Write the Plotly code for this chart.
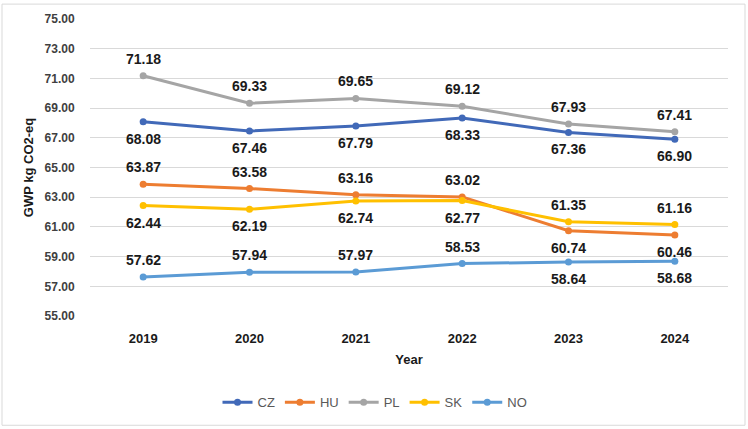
import plotly.graph_objects as go

years = [2019, 2020, 2021, 2022, 2023, 2024]
series_names = ["CZ", "HU", "PL", "SK", "NO"]
cz = [68.08, 67.46, 67.79, 68.33, 67.36, 66.90]
hu = [63.87, 63.58, 63.16, 63.02, 60.74, 60.46]
pl = [71.18, 69.33, 69.65, 69.12, 67.93, 67.41]
sk = [62.44, 62.19, 62.74, 62.77, 61.35, 61.16]
no = [57.62, 57.94, 57.97, 58.53, 58.64, 58.68]
y_ticks = [55, 57, 59, 61, 63, 65, 67, 69, 71, 73, 75]

# label placement: +1 above, -1 below
pos_cz = [-1, -1, -1, -1, -1, -1]
pos_hu = [1, 1, 1, 1, -1, -1]
pos_pl = [1, 1, 1, 1, 1, 1]
pos_sk = [-1, -1, -1, -1, 1, 1]
pos_no = [1, 1, 1, 1, -1, -1]

colors = ["#4169B8", "#ED7D31", "#A5A5A5", "#FFC000", "#5B9BD5"]
values = [cz, hu, pl, sk, no]
positions = [pos_cz, pos_hu, pos_pl, pos_sk, pos_no]

fig = go.Figure()
annotations = []
for name, vals, col, pos in zip(series_names, values, colors, positions):
    fig.add_trace(go.Scatter(
        x=years, y=vals, name=name, mode="lines+markers",
        line=dict(color=col, width=3),
        marker=dict(color=col, size=7),
    ))
    for x, v, p in zip(years, vals, pos):
        annotations.append(dict(
            x=x, y=v, xref="x", yref="y", text=f"<b>{v:.2f}</b>", showarrow=False,
            yshift=17 * p, font=dict(family="Liberation Sans, Arial", size=14, color="#1a1a1a"),
        ))

L, R, T, B = 90, 20, 17, 113
pw = 748 - L - R
ph = 429 - T - B

def px(xp):
    return (xp - L) / pw

def py(yp):
    return (429 - B - yp) / ph

fig.update_layout(
    width=748, height=429,
    margin=dict(l=L, r=R, t=T, b=B),
    paper_bgcolor="white", plot_bgcolor="white",
    font=dict(family="Liberation Sans, Arial", color="#262626"),
    showlegend=True,
    legend=dict(orientation="h", x=px(375), xanchor="center", y=py(403), yanchor="middle",
                font=dict(size=13, color="#595959"), tracegroupgap=0),
    annotations=annotations,
    shapes=[dict(type="rect", xref="paper", yref="paper",
                 x0=px(2), x1=px(745), y0=py(426), y1=py(2),
                 line=dict(color="#D9D9D9", width=1), layer="below")],
)
fig.update_xaxes(
    range=[2018.5, 2024.5], tickvals=years, ticktext=[str(y) for y in years],
    showgrid=False, showline=False, zeroline=False,
    ticks="outside", ticklen=10, tickcolor="rgba(0,0,0,0)",
    tickfont=dict(size=13, color="#1a1a1a", family="Liberation Sans, Arial", weight="bold"),
    title=dict(text="<b>Year</b>", font=dict(size=13, color="#1a1a1a"), standoff=10),
)
fig.update_yaxes(
    range=[55, 75], tickvals=y_ticks, tickformat=".2f",
    showgrid=True, gridcolor="#D9D9D9", gridwidth=1, zeroline=False, showline=False,
    ticks="outside", ticklen=12, tickcolor="rgba(0,0,0,0)",
    tickfont=dict(size=12, color="#404040", family="Liberation Sans, Arial", weight="bold"),
    title=dict(text="<b>GWP kg CO2-eq</b>", font=dict(size=13, color="#1a1a1a"), standoff=8),
)

fig.write_html("out.html")
